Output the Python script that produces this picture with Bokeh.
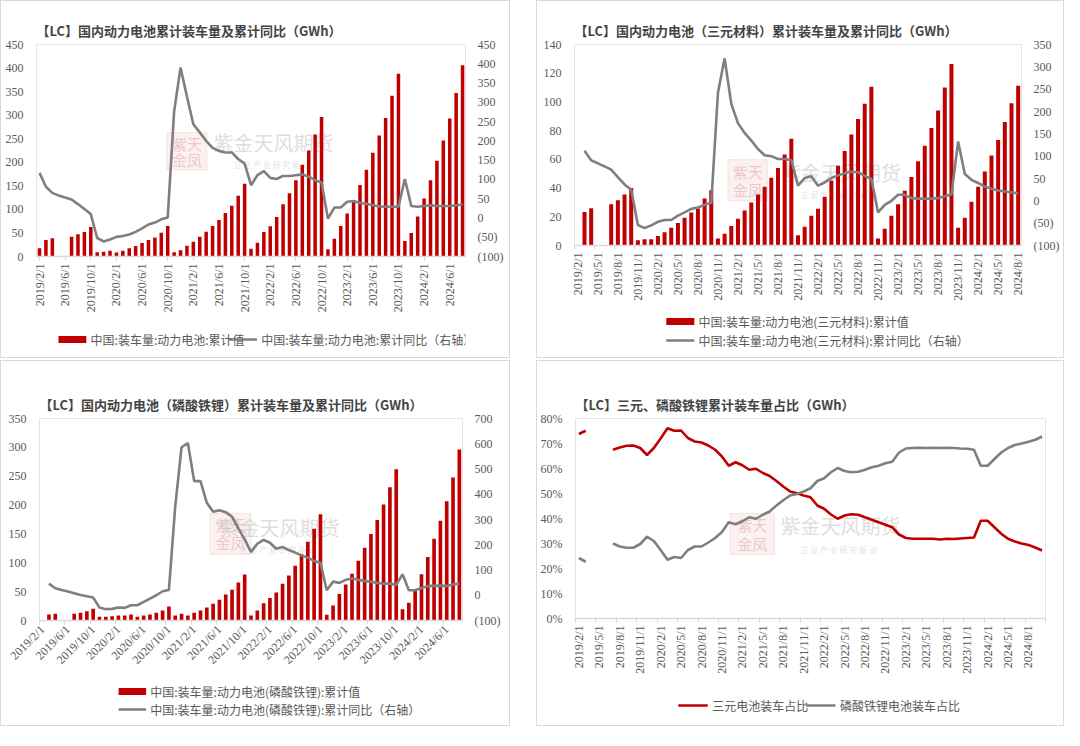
import math
from bokeh.plotting import figure
from bokeh.layouts import row, column
from bokeh.models import Range1d, LinearAxis, FixedTicker
from bokeh.core.properties import value
from bokeh.embed import file_html
from bokeh.resources import INLINE

RED = "#c00000"
GREY = "#7f7f7f"
TXT = "#595959"
AXIS = "#d9d9d9"
CJK = "Noto Sans CJK SC"
NUM = "Liberation Serif"

months = []
_y, _m = 2019, 2
for _ in range(69):
    months.append(f"{_y}/{_m}/1")
    _m += 1
    if _m > 12:
        _m = 1
        _y += 1

x4_labels = ["2019/2/1", "2019/6/1", "2019/10/1", "2020/2/1", "2020/6/1", "2020/10/1",
             "2021/2/1", "2021/6/1", "2021/10/1", "2022/2/1", "2022/6/1", "2022/10/1",
             "2023/2/1", "2023/6/1", "2023/10/1", "2024/2/1", "2024/6/1"]
x3_labels = ["2019/2/1", "2019/5/1", "2019/8/1", "2019/11/1", "2020/2/1", "2020/5/1",
             "2020/8/1", "2020/11/1", "2021/2/1", "2021/5/1", "2021/8/1", "2021/11/1",
             "2022/2/1", "2022/5/1", "2022/8/1", "2022/11/1", "2023/2/1", "2023/5/1",
             "2023/8/1", "2023/11/1", "2024/2/1", "2024/5/1", "2024/8/1"]

c1_total = [17.7, 35, 39, None, None, 42, 47, 52, 62.4,
            9.2, 10, 12, 8.5, 12, 17.5, 22.5, 28.4, 35, 40.4, 50.4, 64.5,
            9.2, 13.5, 22.7, 31.2, 41.8, 52.5, 64.5, 77.3, 92.2, 107.8, 129, 154.6,
            16.3, 29, 52, 64, 84, 111, 134, 162, 195, 225, 259, 296,
            15.6, 37.6, 65, 91.5, 119, 152, 184, 220, 257, 294, 341, 388,
            33, 50, 85, 123, 162, 203.5, 246, 293, 347, 406]
c1_yoy = [117, 81, 65, 58, 53, 48, 36, 23, 10,
          -52, -61, -56, -49, -47, -43, -36, -27, -17, -12, -3.5, 1,
          276, 390, 315, 243, 222, 200, 182, 174, 170, 170, 153, 141,
          85, 111, 121.5, 104, 101, 109, 109, 111, 113, 107, 98, 92,
          -2, 27, 27, 42, 44, 39, 37, 33, 30, 29, 29, 29,
          101, 31, 29, 31, 33, 31, 31, 31, 33, 35]

c2_total = [None, 23.3, 26, None, None, 28.8, 31.6, 35.6, 40,
            3.7, 4.4, 4.4, 6.7, 9.3, 12.3, 15.6, 19.3, 23, 25.8, 32.8, 38.4,
            4.9, 8.1, 13.5, 18.6, 24.4, 30, 35.6, 41, 47.2, 54, 63.3, 74.4,
            7.2, 13, 20.7, 25.6, 34, 45.3, 55.6, 65.8, 77.4, 88.1, 98.8, 110.5,
            4.9, 11.6, 20.7, 28.8, 38.1, 47.7, 58.6, 69.5, 81.9, 94, 110, 126.5,
            12.3, 19.3, 30.5, 41, 51.6, 62.6, 73.5, 86, 99, 111.2]
c2_yoy = [None, 112, 90.6, 84, 77, 70, 53, 36.7, 24.7,
          -54, -61, -55, -47, -43, -43, -33, -26, -18, -15, -9, -4.5,
          242, 319, 217, 174, 152, 135, 116, 102, 100, 93.6, 93.6, 91,
          34, 51, 55, 34, 41, 51, 57, 62, 65, 64, 56, 49,
          -26, -9, 0, 13.5, 13.5, 6, 5, 5, 5, 6, 10, 14,
          133, 60, 47, 40, 32, 27, 23, 21, 19, 17]

c3_total = [None, 10.4, 11.6, None, None, 11.6, 13.3, 16.2, 20.3,
            6.4, 6.4, 7.5, 8.7, 8.7, 10.4, 6.4, 8.7, 10.4, 13.3, 17.4, 24.3,
            8.7, 11.6, 8.7, 13.3, 17.4, 22.6, 28.9, 35.9, 45.1, 53.2, 66, 79.9,
            8.7, 17.4, 30.1, 38.8, 48.6, 63.7, 78, 95, 115, 136.6, 159, 184,
            9.8, 26, 45.7, 62.5, 81, 103.6, 126, 150, 174, 201, 231, 262,
            19.7, 30.7, 52, 80, 110, 141.8, 173, 206.6, 247.7, 296.3]
c3_yoy = [None, 46, 27.7, 21, 14.5, 7.9, 1.3, -4, -9.2,
          -48.7, -55, -54, -48.7, -50, -39.5, -39.5, -26.4, -13.2, 0, 15.8, 21,
          353, 586, 603, 452, 452, 366, 331, 337, 329, 311, 264, 221,
          171, 204, 219, 208, 184, 191, 179, 169, 158, 149, 136, 129,
          20, 54, 49, 61, 66, 61, 57, 53, 49, 46, 46, 41,
          83, 20, 20, 29, 36, 37, 38, 37, 43, 46]

c4_ternary = [73.8, 75.1, None, None, None,
              67.5, 68.4, 69.1, 69.2, 68.2, 65.4, 68.2, 72, 76.1, 75.1, 75.2, 72.2,
              70.8, 70.4, 69.2, 67.5, 64.8, 61.1, 62.5, 61.3, 59.5, 59.9, 58.2, 57,
              55, 52.8, 50.8, 50.1, 49.2, 48.5, 45.2, 43.9, 41.6, 39.9, 41.2, 41.7,
              41.5, 40.5, 39.5, 38.5, 37.5, 36.5, 33.6, 32.2, 31.9, 31.9, 31.9, 31.9,
              31.6, 31.9, 31.8, 32, 32.2, 32.4, 39.1, 39.1, 36.5, 33.9, 31.9, 30.8,
              30, 29.4, 28.4, 27.2]
c4_lfp = [24.2, 22.7, None, None, None,
          30, 28.8, 28.3, 28.3, 29.8, 32.7, 31, 27.4, 23.5, 24.6, 24.2, 27.4,
          28.8, 28.8, 30.4, 32.2, 34.6, 38.5, 37.7, 38.9, 40.5, 39.9, 41.5, 42.8,
          45.2, 47.3, 49.2, 49.8, 50.8, 52.1, 55, 56.1, 58.5, 60.2, 59, 58.5,
          58.7, 59.5, 60.5, 61.1, 62.1, 62.7, 66.4, 68, 68.2, 68.3, 68.2, 68.3,
          68.2, 68.3, 68.2, 68, 67.9, 67.5, 61.1, 61.1, 63.8, 66.4, 68.2, 69.4,
          70, 70.7, 71.5, 72.8]

pct_ticks = [0, 10, 20, 30, 40, 50, 60, 70, 80]


def valid(vals):
    xs = [i for i, v in enumerate(vals) if v is not None]
    return xs, [vals[i] for i in xs]


def segments(vals):
    xs, ys, cx, cy = [], [], [], []
    for i, v in enumerate(vals):
        if v is None:
            if cx:
                xs.append(cx)
                ys.append(cy)
            cx, cy = [], []
        else:
            cx.append(i)
            cy.append(v)
    if cx:
        xs.append(cx)
        ys.append(cy)
    return xs, ys


def style_y(ax):
    ax.axis_line_color = None
    ax.major_tick_line_color = None
    ax.minor_tick_line_color = None
    ax.major_label_standoff = 7
    ax.major_label_text_color = TXT
    ax.major_label_text_font = NUM
    ax.major_label_text_font_size = "12px"


def base_fig(W, H, L, R, T, B, xr, yr, title):
    p = figure(width=W, height=H, x_range=Range1d(*xr), y_range=Range1d(*yr),
               output_backend="svg", toolbar_location=None, tools="",
               min_border_left=L, min_border_right=W - R,
               min_border_top=T, min_border_bottom=H - B)
    p.xgrid.grid_line_color = None
    p.ygrid.grid_line_color = None
    p.title.text = title
    p.title.text_font = CJK
    style_y(p.yaxis[0])
    xa = p.xaxis[0]
    xa.axis_line_color = AXIS
    xa.axis_line_width = 1.5
    xa.major_label_text_color = TXT
    xa.major_label_text_font = NUM
    xa.major_label_text_font_size = "12px"
    xa.major_label_standoff = 3
    return p


def x_axis(p, labels, boundary=False, extra_marks=(), orientation=math.pi / 2):
    ticks = [months.index(l) for l in labels]
    xa = p.xaxis[0]
    if boundary:
        xa.ticker = FixedTicker(ticks=ticks,
                                minor_ticks=[t - 0.5 for t in ticks] + list(extra_marks))
        xa.major_tick_line_color = None
        xa.minor_tick_line_color = AXIS
        xa.minor_tick_out = 4
        xa.minor_tick_in = 0
    else:
        xa.ticker = FixedTicker(ticks=ticks)
        xa.major_tick_line_color = AXIS
        xa.minor_tick_line_color = None
    xa.major_tick_out = 4
    xa.major_tick_in = 0
    xa.major_label_overrides = {t: l for t, l in zip(ticks, labels)}
    xa.major_label_orientation = orientation


def right_axis(p, lo, hi, step):
    p.extra_y_ranges = {"right": Range1d(lo, hi)}
    ticks = list(range(lo, hi + 1, step))
    ax = LinearAxis(y_range_name="right", ticker=FixedTicker(ticks=ticks))
    style_y(ax)
    ax.major_label_standoff = 6
    ax.major_label_overrides = {t: f"({abs(t)})" for t in ticks if t < 0}
    p.add_layout(ax, "right")


def watermark(p, seal, tx, ty, sy):
    l, r, b, t = seal
    p.quad(left=[l], right=[r], bottom=[b], top=[t], fill_color="#f2cfcf",
           fill_alpha=0.3, line_color="#eab8b8", line_alpha=0.35)
    cx = (l + r) / 2
    p.text(x=[cx, cx], y=[b + 0.72 * (t - b), b + 0.28 * (t - b)], text=["紫天", "金凤"],
           text_font=value(CJK), text_font_size=value("15px"), text_color="#e3a1a1",
           text_alpha=0.55, text_align="center", text_baseline="middle")
    p.text(x=[tx], y=[ty], text=["紫金天风期货"], text_font=value(CJK),
           text_font_size=value("20px"), text_color="#c8c8c8", text_alpha=0.6,
           text_align="center", text_baseline="middle")
    p.text(x=[tx], y=[sy], text=["立 足 产 业   研 究 驱 动"], text_font=value(CJK),
           text_font_size=value("8px"), text_color="#cccccc", text_alpha=0.6,
           text_align="center", text_baseline="middle")


def legend_fig(W, H, items):
    # items: (kind, color, x_swatch, y_row, label)
    lf = figure(width=W, height=H, x_range=Range1d(0, W), y_range=Range1d(H, 0),
                output_backend="svg", toolbar_location=None, tools="", title=None,
                x_axis_location=None, y_axis_location=None, min_border=0,
                min_border_left=0, min_border_right=0, min_border_top=0,
                min_border_bottom=0, outline_line_color=None)
    lf.grid.visible = False
    lf.axis.visible = False
    for kind, color, xs, yr, label in items:
        if kind == "bar":
            lf.quad(left=[xs], right=[xs + 33], top=[yr - 3.5], bottom=[yr + 3.5],
                    fill_color=color, line_color=None)
        else:
            lf.line(x=[xs, xs + 33], y=[yr, yr], color=color, line_width=2.6)
        lf.text(x=[xs + 38], y=[yr], text=[label], text_font=value(CJK),
                text_font_size=value("12px"), text_color=TXT, text_align="left",
                text_baseline="middle")
    return lf


def panel(main, leg):
    return column(main, leg, spacing=0,
                  styles={"border": "1px solid #d9d9d9"})


def bar_line_chart(W, H, L, R, T, B, xr, ymax, ystep, rlo, rhi, rstep, title,
                   totals, yoy, xlabels, boundary, orient, bar_w, wm):
    p = base_fig(W, H, L, R, T, B, xr, (0, ymax), title)
    p.yaxis[0].ticker = FixedTicker(ticks=list(range(0, ymax + 1, ystep)))
    x_axis(p, xlabels, boundary, (), orient)
    right_axis(p, rlo, rhi, rstep)
    watermark(p, *wm)
    bx, by = valid(totals)
    p.vbar(x=bx, top=by, width=bar_w, color=RED, line_color=None)
    lx, ly = valid(yoy)
    p.line(x=lx, y=ly, y_range_name="right", color=GREY, line_width=2.6)
    return p


# ---- chart 1 ----
p1 = bar_line_chart(508, 320, 35, 464, 43, 255, (-0.47, 66.46), 450, 50, -100, 450, 50,
                    "【LC】国内动力电池累计装车量及累计同比（GWh）",
                    c1_total, c1_yoy, x4_labels, False, math.pi / 2, 0.55,
                    ((19.9, 26.1, 184, 263), 36.5, 241, 195))
l1 = legend_fig(508, 36, [("bar", RED, 26, 18, "中国:装车量:动力电池:累计值"),
                          ("line", GREY, 228, 18, "中国:装车量:动力电池:累计同比（右轴）")])

# ---- chart 2 ----
p2 = bar_line_chart(526, 304, 37, 484, 43, 244, (-0.5, 66.5), 140, 20, -100, 350, 50,
                    "【LC】国内动力电池（三元材料）累计装车量及累计同比（GWh）",
                    c2_total, c2_yoy, x3_labels, True, math.pi / 2, 0.6,
                    ((22.5, 28.4, 31.2, 59.8), 39.4, 50.7, 35.4))
l2 = legend_fig(526, 52, [("bar", RED, 108, 16, "中国:装车量:动力电池(三元材料):累计值"),
                          ("line", GREY, 108, 35,
                           "中国:装车量:动力电池(三元材料):累计同比（右轴）")])

# ---- chart 3 ----
p3 = bar_line_chart(508, 316, 38, 461, 57, 259, (-0.5, 66.5), 350, 50, -100, 700, 100,
                    "【LC】国内动力电池（磷酸铁锂）累计装车量及累计同比（GWh）",
                    c3_total, c3_yoy, x4_labels, True, math.pi / 4, 0.58,
                    ((26.5, 33.0, 114.5, 185.7), 37.5, 161.4, 123))
l3 = legend_fig(508, 48, [("bar", RED, 95, 14, "中国:装车量:动力电池(磷酸铁锂):累计值"),
                          ("line", GREY, 95, 32,
                           "中国:装车量:动力电池(磷酸铁锂):累计同比（右轴）")])

# ---- chart 4 ----
p4 = base_fig(526, 320, 38, 508, 57, 257, (-0.5, 68.5), (0, 80),
              "【LC】三元、磷酸铁锂累计装车量占比（GWh）")
p4.yaxis[0].ticker = FixedTicker(ticks=pct_ticks)
p4.yaxis[0].major_label_overrides = {t: f"{t}%" for t in pct_ticks}
x_axis(p4, x3_labels, True, (68.5,), math.pi / 2)
watermark(p4, (22.2, 28.7, 25.6, 42), 38.4, 37.2, 27.6)
tx, ty = segments(c4_ternary)
lx, ly = segments(c4_lfp)
p4.multi_line(xs=tx, ys=ty, color=RED, line_width=2.6)
p4.multi_line(xs=lx, ys=ly, color=GREY, line_width=2.6)
l4 = legend_fig(526, 44, [("line", RED, 115, 24, "三元电池装车占比"),
                          ("line", GREY, 258, 24, "磷酸铁锂电池装车占比")])

layout = column(row(panel(p1, l1), panel(p2, l2), spacing=26),
                row(panel(p3, l3), panel(p4, l4), spacing=26), spacing=2)

with open("out.html", "w") as f:
    f.write(file_html(layout, INLINE))
